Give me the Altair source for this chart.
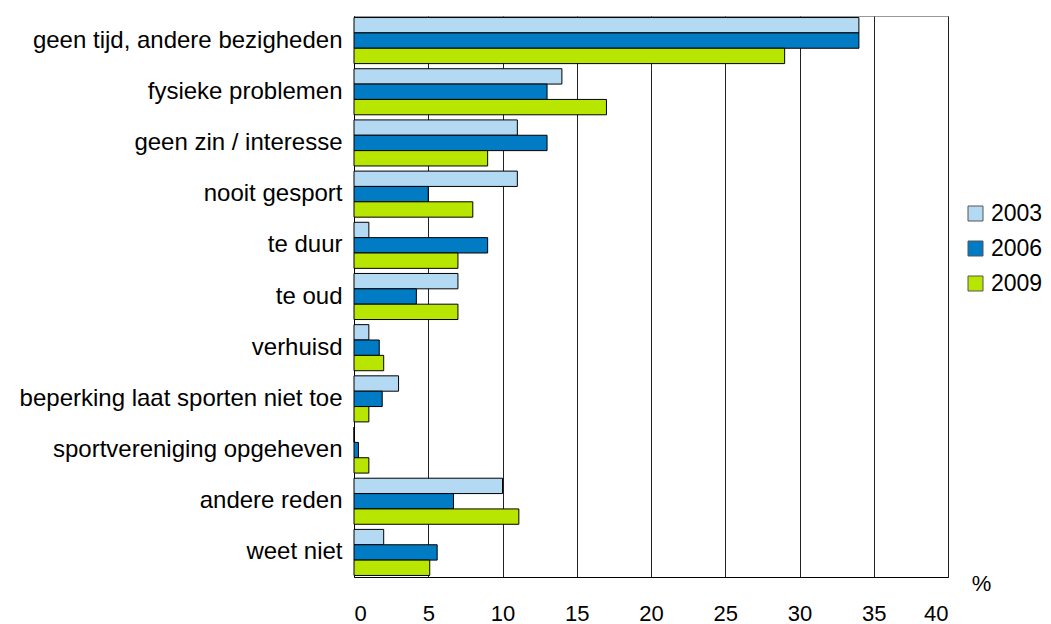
import altair as alt
import pandas as pd

categories = [
    "geen tijd, andere bezigheden",
    "fysieke problemen",
    "geen zin / interesse",
    "nooit gesport",
    "te duur",
    "te oud",
    "verhuisd",
    "beperking laat sporten niet toe",
    "sportvereniging opgeheven",
    "andere reden",
    "weet niet",
]
years = ["2003", "2006", "2009"]
v2003 = [34, 14, 11, 11, 1, 7, 1, 3, 0, 10, 2]
v2006 = [34, 13, 13, 5, 9, 4.2, 1.7, 1.9, 0.3, 6.7, 5.6]
v2009 = [29, 17, 9, 8, 7, 7, 2, 1, 1, 11.1, 5.1]
colors = ["#B3D9F3", "#007BC4", "#B8E600"]
x_ticks = [0, 5, 10, 15, 20, 25, 30, 35, 40]

rows = []
for yr, vals in zip(years, [v2003, v2006, v2009]):
    for c, v in zip(categories, vals):
        rows.append({"categorie": c, "jaar": yr, "waarde": v})
df = pd.DataFrame(rows)

FONT = "Liberation Sans"

chart = alt.Chart(df).mark_bar(stroke="#000000", strokeWidth=1).encode(
    y=alt.Y("categorie:N", sort=categories,
            scale=alt.Scale(paddingInner=0.1, paddingOuter=0.03),
            axis=alt.Axis(title=None, ticks=False, labelPadding=12, labelFontSize=24,
                          labelFont=FONT, labelColor="#000", domainColor="#000",
                          labelLimit=400)),
    yOffset=alt.YOffset("jaar:N", sort=years, scale=alt.Scale(paddingInner=0, paddingOuter=0)),
    x=alt.X("waarde:Q", scale=alt.Scale(domain=[0, 40], nice=False),
            axis=alt.Axis(values=x_ticks, ticks=False, labelPadding=26, labelFontSize=22,
                          labelFont=FONT, labelColor="#000", domainColor="#000",
                          grid=True, gridColor="#222", gridWidth=1,
                          title="%", titleFont=FONT, titleFontSize=22, titleFontWeight="normal",
                          titleX=627, titleY=6, titleAlign="center", titleBaseline="middle",
                          titleColor="#000")),
    color=alt.Color("jaar:N", sort=years,
                    scale=alt.Scale(domain=years, range=colors),
                    legend=alt.Legend(title=None, orient="none", legendX=610, legendY=186,
                                      padding=0,
                                      symbolType="square", symbolSize=225,
                                      symbolStrokeColor="#555", symbolStrokeWidth=1,
                                      labelFont=FONT, labelFontSize=23, labelColor="#000",
                                      labelLimit=200,
                                      rowPadding=11, labelOffset=4)),
).properties(
    width=594, height=561,
    autosize=alt.AutoSizeParams(type="none"),
    padding={"left": 346, "top": 8, "right": 95, "bottom": 47},
).configure_view(stroke="#999", strokeWidth=1)

chart.save("out.html", embed_options={"renderer": "svg", "actions": False})
